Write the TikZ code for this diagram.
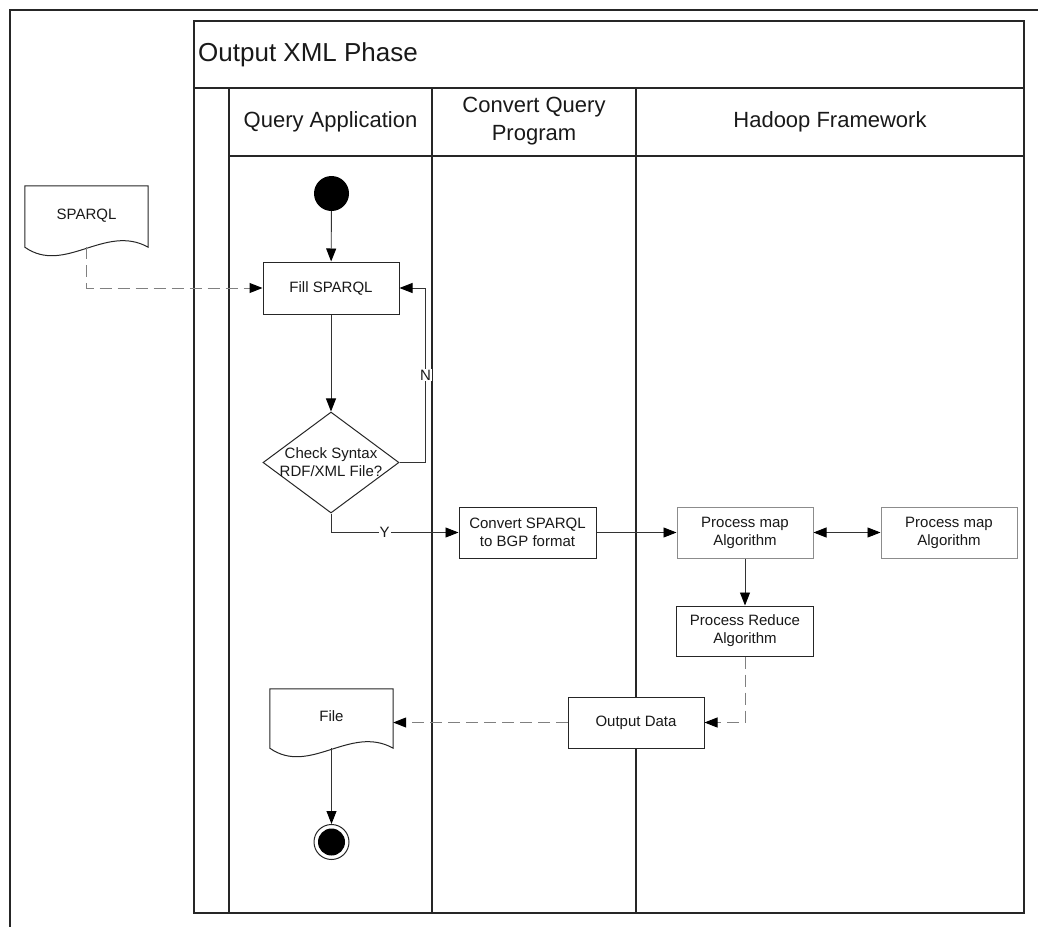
\documentclass[tikz,border=0pt]{standalone}
\usepackage{fontspec}
\setmainfont{Liberation Sans}
\usetikzlibrary{arrows.meta,shapes.geometric,calc}

\begin{document}
\begin{tikzpicture}[x=1bp,y=-1bp,
  frame/.style={draw=black!85, line width=1.1bp},
  boxfont/.style={font=\fontsize{15bp}{18bp}\selectfont},
  headfont/.style={font=\fontsize{22bp}{27bp}\selectfont},
  activity/.style={rectangle, draw=black!85, fill=white, line width=1bp, inner sep=0pt,
    minimum width=136bp, minimum height=51bp, align=center, boxfont, text=black!90},
  lightact/.style={activity, draw=black!45},
  docnode/.style={rectangle, inner sep=0pt, minimum width=123bp, align=center, boxfont, text=black!90},
  docline/.style={draw=black!85, line width=1bp},
  tip/.style={-{Triangle[length=13bp,width=10bp,color=black]}},
  flow/.style={draw=black!80, line width=0.9bp, tip},
  dataflow/.style={draw=black!50, line width=1bp, dash pattern=on 12bp off 6bp, tip},
  twoway/.style={draw=black!80, line width=0.9bp,
    {Triangle[length=13bp,width=10bp,color=black]}-{Triangle[length=13bp,width=10bp,color=black]}},
  lbl/.style={fill=white, inner sep=1pt, boxfont, text=black!90}
]
\useasboundingbox (0,0) rectangle (1038,927);

% outer page frame
\draw[frame] (10,927) -- (10,10) -- (1038,10);

% pool with title band, side column and three lanes
\draw[frame] (194,21) rectangle (1024,913);
\draw[frame] (194,88) -- (1024,88);
\draw[frame] (229,88) -- (229,913);
\draw[frame] (229,156) -- (1024,156);
\draw[frame] (432,88) -- (432,913);
\draw[frame] (636,88) -- (636,913);

\node (title) [anchor=west, inner sep=0pt, font=\fontsize{26bp}{30bp}\selectfont, text=black!90] at (198,55) {Output XML Phase};
\node (laneA) [headfont, text=black!90] at (330.5,122) {Query Application};
\node (laneB) [headfont, text=black!90, align=center, font=\fontsize{22bp}{28bp}\selectfont] at (534,121) {Convert Query\\Program};
\node (laneC) [headfont, text=black!90] at (830,122) {Hadoop Framework};

% input document
\node (spq) [docnode, minimum height=61bp] at (86.5,216.5) {\raisebox{4bp}{SPARQL}};
\draw[docline] (spq.north west) -- (spq.north east) -- (spq.south east)
  .. controls ($(spq.south east)+(-43,-24)$) and ($(spq.south west)+(40,28)$) .. (spq.south west) -- cycle;

% activities
\node (start) [circle, fill=black, minimum size=35bp, inner sep=0pt] at (331.5,193.5) {};
\node (fill) [activity, minimum width=136bp, minimum height=52bp] at (331,288) {Fill SPARQL};
\node (check) [diamond, draw=black!85, fill=white, line width=1bp, inner sep=0pt,
  minimum width=136bp, minimum height=101bp,
  label={[name=checktext, align=center, boxfont, text=black!90]center:Check Syntax\\RDF/XML File?}] at (331,462.5) {};
\node (convert) [activity, minimum width=137bp] at (527.5,532.5) {Convert SPARQL\\to BGP format};
\node (mapA) [lightact] at (745,532.5) {Process map\\Algorithm};
\node (mapB) [lightact] at (949,532.5) {Process map\\Algorithm};
\node (reduce) [activity, minimum width=137bp, minimum height=50bp] at (745,631) {Process Reduce\\Algorithm};
\node (output) [activity] at (636,722.5) {Output Data};

% output document: outline first, then its caption on top
\node (file) [docnode, minimum height=59bp] at (331.5,718.5) {};
\draw[docline, fill=white] (file.north west) -- (file.north east) -- (file.south east)
  .. controls ($(file.south east)+(-43,-24)$) and ($(file.south west)+(40,28)$) .. (file.south west) -- cycle;
\node (filetext) [boxfont, text=black!90] at (file.center) {\raisebox{5bp}{File}};

% final state
\node (end) [circle, draw=black!85, line width=1bp, minimum size=35bp, inner sep=0pt] at (331.5,842) {};
\fill[black] (end.center) circle (13.5);

% connectors
\draw[flow] (start) -- (fill);
\draw[dataflow] (spq.south) |- (fill.west);
\draw[flow] (fill) -- (check);
\draw[flow] (check.east) -- ($(check.east)+(26,0)$) |- node[pos=0.25, lbl] {N} (fill.east);
\draw[flow] (check.south) |- node[pos=0.71, lbl] {Y} (convert.west);
\draw[flow] (convert.east) -- (mapA.west);
\draw[twoway] (mapA.east) -- (mapB.west);
\draw[flow] (mapA.south) -- (reduce.north);
\draw[dataflow] (reduce.south) |- (output.east);
\draw[dataflow] (output.west) -- (output.west -| file.east);
\draw[flow] (file.south) -- (end.north);
\end{tikzpicture}
\end{document}
